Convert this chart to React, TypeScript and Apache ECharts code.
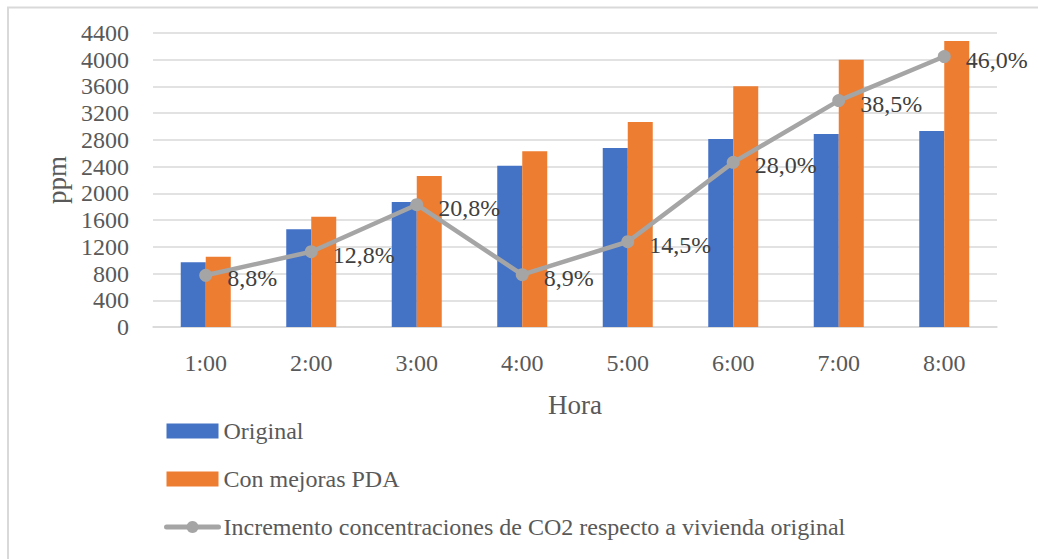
import React, { useEffect, useRef } from "react";
import * as echarts from "echarts";

// Hourly CO2 concentration (ppm) for the two dwelling variants
const horas = ["1:00", "2:00", "3:00", "4:00", "5:00", "6:00", "7:00", "8:00"];
const original = [968, 1462, 1871, 2414, 2679, 2814, 2888, 2933];
const conMejoras = [1053, 1649, 2260, 2629, 3068, 3602, 4000, 4282];
// Increase relative to the original dwelling (%)
const incremento = [8.8, 12.8, 20.8, 8.9, 14.5, 28.0, 38.5, 46.0];

const FONT = "'Liberation Serif', 'DejaVu Serif', serif";
const TEXT = "#595959";
const GRAY = "#A5A5A5";
const LINE_NAME = "Incremento concentraciones de CO2 respecto a vivienda original";

export default function App() {
  const ref = useRef<HTMLDivElement>(null);

  useEffect(() => {
    if (!ref.current) return;
    const chart = echarts.init(ref.current, undefined, { renderer: "svg" });
    chart.setOption({
      animation: false,
      textStyle: { fontFamily: FONT },
      graphic: [
        {
          type: "rect",
          shape: { x: 8, y: 7.5, width: 1100, height: 700 },
          style: { fill: "none", stroke: "#D9D9D9", lineWidth: 2 },
          silent: true,
        },
      ],
      grid: { left: 153, right: 41, top: 33, bottom: 232 },
      legend: {
        orient: "vertical",
        left: 164,
        top: 419,
        padding: 0,
        itemWidth: 52,
        itemHeight: 15,
        itemGap: 24,
        textStyle: { fontFamily: FONT, fontSize: 24, color: TEXT, lineHeight: 24 },
        data: [
          { name: "Original", icon: "rect" },
          { name: "Con mejoras PDA", icon: "rect" },
          {
            name: LINE_NAME,
            lineStyle: { width: 5, color: GRAY, cap: "round" },
            itemStyle: { color: GRAY },
          },
        ],
      },
      xAxis: {
        type: "category",
        data: horas,
        name: "Hora",
        nameLocation: "middle",
        nameGap: 64,
        nameTextStyle: { fontFamily: FONT, fontSize: 27, color: TEXT },
        axisLine: { lineStyle: { color: "#D9D9D9", width: 1.5 } },
        axisTick: { show: false },
        axisLabel: { fontFamily: FONT, fontSize: 24, color: TEXT, margin: 24 },
      },
      yAxis: [
        {
          type: "value",
          min: 0,
          max: 4400,
          interval: 400,
          name: "ppm",
          nameLocation: "middle",
          nameGap: 82,
          nameTextStyle: { fontFamily: FONT, fontSize: 27, color: TEXT },
          axisLine: { show: false },
          axisTick: { show: false },
          axisLabel: {
            fontFamily: FONT,
            fontSize: 24,
            color: TEXT,
            margin: 24,
            formatter: (v: number) => String(v),
          },
          splitLine: { lineStyle: { color: "#D9D9D9", width: 1.5 } },
        },
        {
          type: "value",
          min: 0,
          max: 50,
          show: false,
          splitLine: { show: false },
        },
      ],
      series: [
        {
          name: "Original",
          type: "bar",
          data: original,
          barWidth: 25,
          barGap: "0%",
          itemStyle: { color: "#4472C4" },
        },
        {
          name: "Con mejoras PDA",
          type: "bar",
          data: conMejoras,
          barWidth: 25,
          barGap: "0%",
          itemStyle: { color: "#ED7D31" },
        },
        {
          name: LINE_NAME,
          type: "line",
          yAxisIndex: 1,
          data: incremento,
          symbol: "circle",
          symbolSize: 13,
          lineStyle: { color: GRAY, width: 4.5 },
          itemStyle: { color: GRAY },
          label: {
            show: true,
            position: "right",
            distance: 15,
            offset: [0, 3],
            fontFamily: FONT,
            fontSize: 24,
            color: "#404040",
            formatter: (p: any) => p.value.toFixed(1).replace(".", ",") + "%",
          },
          z: 5,
        },
      ],
    });
    return () => chart.dispose();
  }, []);

  return (
    <div
      ref={ref}
      style={{ position: "absolute", left: 0, top: 0, width: 1038, height: 559, background: "#fff" }}
    />
  );
}
